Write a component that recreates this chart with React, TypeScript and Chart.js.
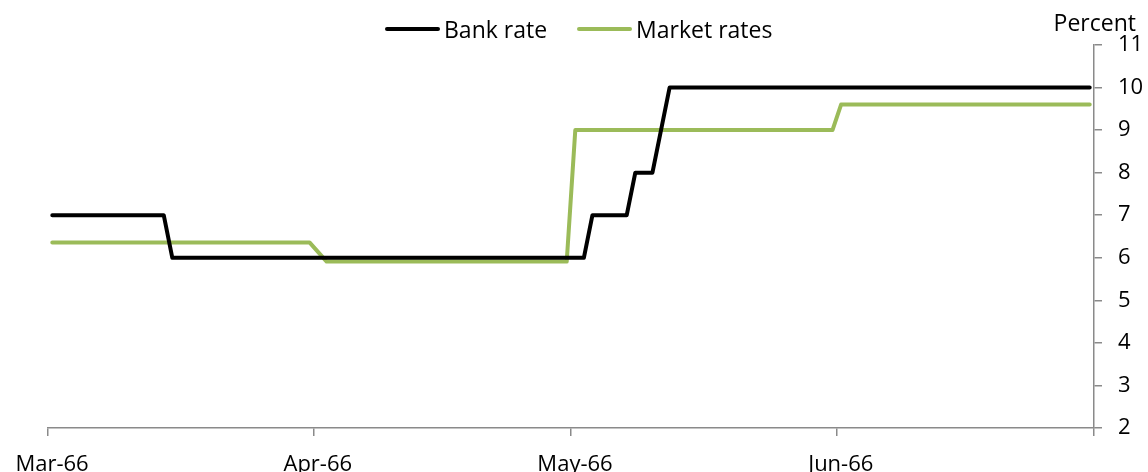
import React, { useEffect, useRef } from "react";
import { Chart, registerables } from "chart.js";

Chart.register(...registerables);

const seriesNames = ["Bank rate", "Market rates"];
const seriesColors = ["#000000", "#9BBB59"];

const bankDates = [
  "1966-03-01", "1966-03-14", "1966-03-15", "1966-05-02", "1966-05-03",
  "1966-05-07", "1966-05-08", "1966-05-10", "1966-05-12", "1966-06-30",
];
const bankValues = [7, 7, 6, 6, 7, 7, 8, 8, 10, 10];

const marketDates = [
  "1966-03-01", "1966-03-31", "1966-04-02", "1966-04-30",
  "1966-05-01", "1966-05-31", "1966-06-01", "1966-06-30",
];
const marketValues = [6.36, 6.36, 5.91, 5.91, 9.0, 9.0, 9.6, 9.6];

const monthTickDates = ["1966-03-01", "1966-04-01", "1966-05-01", "1966-06-01", "1966-07-01"];
const monthTickLabels = ["Mar-66", "Apr-66", "May-66", "Jun-66", ""];
const axisStart = "1966-03-01";
const axisEnd = "1966-07-01";

const yMin = 2;
const yMax = 11;
const yStep = 1;
const yTitle = "Percent";

const FONT = "'Open Sans'";
const FONT_SIZE = 22;
const LEGEND_FONT_SIZE = 23;
const AXIS_COLOR = "#8a8a8a";

const dayIndex = (s: string) =>
  (Date.parse(s + "T00:00:00Z") - Date.parse(axisStart + "T00:00:00Z")) / 86400000;

// each day occupies one slot; the point sits in the middle of its slot
const toPoints = (dates: string[], values: number[]) =>
  dates.map((d, i) => ({ x: dayIndex(d) + 0.5, y: values[i] }));

const percentTitle = {
  id: "percentTitle",
  afterDraw(chart: any) {
    const { ctx, chartArea } = chart;
    ctx.save();
    ctx.font = `${LEGEND_FONT_SIZE}px ${FONT}`;
    ctx.fillStyle = "#000";
    ctx.textAlign = "right";
    ctx.textBaseline = "alphabetic";
    ctx.fillText(yTitle, chart.width - 12, chartArea.top - 14);
    ctx.restore();
  },
};

export default function App() {
  const ref = useRef<HTMLCanvasElement | null>(null);

  useEffect(() => {
    if (!ref.current) return;
    const tickDays = monthTickDates.map(dayIndex);
    const chart = new Chart(ref.current, {
      type: "line",
      data: {
        datasets: [
          {
            label: seriesNames[0],
            data: toPoints(bankDates, bankValues),
            borderColor: seriesColors[0],
            backgroundColor: seriesColors[0],
            borderWidth: 4,
            pointRadius: 0,
            borderJoinStyle: "round",
            borderCapStyle: "round",
            tension: 0,
          },
          {
            label: seriesNames[1],
            data: toPoints(marketDates, marketValues),
            borderColor: seriesColors[1],
            backgroundColor: seriesColors[1],
            borderWidth: 4,
            pointRadius: 0,
            borderJoinStyle: "round",
            borderCapStyle: "round",
            tension: 0,
          },
        ],
      },
      options: {
        responsive: false,
        animation: false,
        devicePixelRatio: 1,
        layout: { padding: { top: 45, left: 48, right: 0, bottom: 0 } },
        plugins: {
          legend: { display: false },
          tooltip: { enabled: false },
        },
        scales: {
          x: {
            type: "linear",
            min: 0,
            max: dayIndex(axisEnd),
            afterBuildTicks: (scale: any) => {
              scale.ticks = tickDays.map((v) => ({ value: v }));
            },
            afterFit: (scale: any) => {
              scale.height = 44;
              scale.paddingLeft = 0;
              scale.paddingRight = 0;
            },
            ticks: {
              autoSkip: false,
              maxRotation: 0,
              padding: 16,
              labelOffset: 4,
              color: "#000",
              font: { family: FONT, size: FONT_SIZE },
              callback: (_v: any, i: number) => monthTickLabels[i],
            },
            grid: {
              drawOnChartArea: false,
              drawTicks: true,
              tickLength: 8,
              color: AXIS_COLOR,
              lineWidth: 1.5,
            },
            border: { display: true, color: AXIS_COLOR, width: 1.5 },
          },
          y: {
            position: "right",
            min: yMin,
            max: yMax,
            afterFit: (scale: any) => {
              scale.width = 54;
              scale.paddingTop = 0;
              scale.paddingBottom = 0;
            },
            ticks: {
              stepSize: yStep,
              padding: 16,
              color: "#000",
              font: { family: FONT, size: FONT_SIZE },
            },
            grid: {
              drawOnChartArea: false,
              drawTicks: true,
              tickLength: 8,
              color: AXIS_COLOR,
              lineWidth: 1.5,
            },
            border: { display: true, color: AXIS_COLOR, width: 1.5 },
          },
        },
      },
      plugins: [percentTitle],
    } as any);
    return () => chart.destroy();
  }, []);

  return (
    <div style={{ position: "absolute", left: 0, top: 0, width: 1148, height: 472, background: "#fff", overflow: "hidden" }}>
      <canvas ref={ref} width={1148} height={472} style={{ position: "absolute", left: 0, top: 0 }} />
      <div
        style={{
          position: "absolute",
          left: 385,
          top: 14,
          height: 30,
          display: "flex",
          alignItems: "center",
          gap: 30,
          fontFamily: FONT,
          fontSize: LEGEND_FONT_SIZE,
          color: "#000",
          whiteSpace: "nowrap",
        }}
      >
        {seriesNames.map((name, i) => (
          <div key={name} style={{ display: "flex", alignItems: "center", gap: 4 }}>
            <span style={{ display: "inline-block", width: 55, height: 4, borderRadius: 2, background: seriesColors[i] }} />
            <span>{name}</span>
          </div>
        ))}
      </div>
    </div>
  );
}
